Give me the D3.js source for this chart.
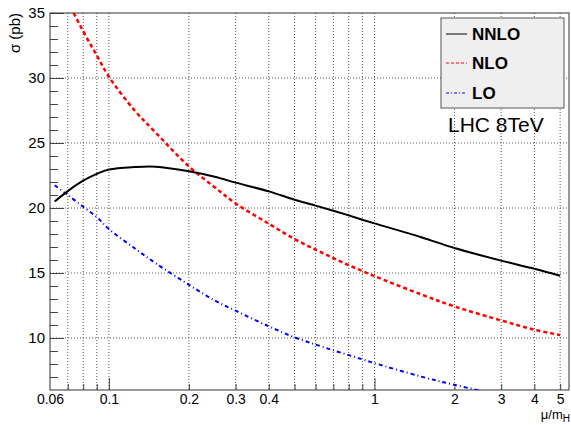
<!DOCTYPE html>
<html>
<head>
<meta charset="utf-8">
<script src="https://cdn.jsdelivr.net/npm/d3@7"></script>
<style>
  body { margin: 0; background: #fff; }
  .chart text { font-family: "Liberation Sans", Arial, Helvetica, sans-serif; fill: #000; }
  .grid line { stroke: #555; stroke-width: 1; stroke-dasharray: 1,2; }
  .axis path { display: none; }
  .axis line { stroke: #444; stroke-width: 1; }
</style>
</head>
<body>
<div class="chart"></div>
<script>
// scale mu/mH values where the curves are sampled
var muValues = [0.0625, 0.07, 0.08, 0.09, 0.1, 0.125, 0.15, 0.2, 0.25, 0.3, 0.4, 0.5,
  0.6, 0.7, 0.8, 0.9, 1, 1.5, 2, 3, 4, 5];

// cross sections (pb)
var nnloValues = [20.5, 21.3, 22.1, 22.62, 22.96, 23.15, 23.18, 22.82, 22.4, 21.95, 21.28, 20.64,
  20.18, 19.79, 19.43, 19.1, 18.82, 17.75, 16.92, 15.95, 15.33, 14.79];
var nloValues = [37.9, 35.9, 33.6, 31.75, 30.1, 27.5, 25.8, 23.2, 21.6, 20.35, 18.79, 17.61,
  16.8, 16.14, 15.6, 15.15, 14.76, 13.35, 12.43, 11.35, 10.64, 10.23];
var loValues = [21.75, 21.0, 20.1, 19.3, 18.38, 16.9, 15.75, 14.1, 12.89, 12.1, 10.9, 10.05,
  9.5, 9.05, 8.68, 8.36, 8.07, 7.03, 6.4, 5.6, 5.1, 4.75];

// axis ticks
var xLabelTicks = [0.06, 0.1, 0.2, 0.3, 0.4, 1, 2, 3, 4, 5];
var xMinorTicks = [0.07, 0.08, 0.09, 0.2, 0.3, 0.4, 0.5, 0.6, 0.7, 0.8, 0.9, 2, 3, 4, 5];
var xMajorTicks = [0.1, 1];
var xGridTicks = [0.07, 0.08, 0.09, 0.1, 0.2, 0.3, 0.4, 0.5, 0.6, 0.7, 0.8, 0.9, 1, 2, 3, 4, 5];
var yMajorTicks = [10, 15, 20, 25, 30, 35];
var yMinorTicks = d3.range(7, 35, 1);
var yGridTicks = [10, 15, 20, 25, 30];

var series = [
  {name: "NNLO", values: nnloValues, color: "#000000", width: 2, dash: null, legendDash: null},
  {name: "NLO", values: nloValues, color: "#ff0000", width: 2.5, dash: "4,3", legendDash: "3,2"},
  {name: "LO", values: loValues, color: "#0000ff", width: 2, dash: "4,3,1,3", legendDash: "3,2,1,2"}
];

var svgWidth = 571;
var svgHeight = 425;
var margin = {top: 13, right: 2, bottom: 35, left: 50};
var width = svgWidth - margin.left - margin.right;
var height = svgHeight - margin.top - margin.bottom;

var svg = d3.select(".chart")
  .append("svg")
  .attr("width", svgWidth)
  .attr("height", svgHeight);

var chart = svg.append("g")
  .attr("transform", "translate(" + margin.left + "," + margin.top + ")");

var xLogScale = d3.scaleLog().domain([0.06, 5.4]).range([0, width]);
var yLinearScale = d3.scaleLinear().domain([6, 35]).range([height, 0]);

// grid
var grid = chart.append("g").attr("class", "grid");
grid.selectAll(".vgrid")
  .data(xGridTicks)
  .enter().append("line")
  .attr("x1", function(d) { return xLogScale(d); })
  .attr("x2", function(d) { return xLogScale(d); })
  .attr("y1", 0)
  .attr("y2", height);
grid.selectAll(".hgrid")
  .data(yGridTicks)
  .enter().append("line")
  .attr("x1", 0)
  .attr("x2", width)
  .attr("y1", function(d) { return yLinearScale(d); })
  .attr("y2", function(d) { return yLinearScale(d); });

// axes (ticks point inward, ROOT style)
chart.append("g").attr("class", "axis")
  .call(d3.axisLeft(yLinearScale).tickValues(yMinorTicks).tickSizeInner(-8).tickSizeOuter(0).tickFormat(""));
chart.append("g").attr("class", "axis y-axis")
  .call(d3.axisLeft(yLinearScale).tickValues(yMajorTicks).tickSizeInner(-14).tickSizeOuter(0).tickPadding(5)
    .tickFormat(d3.format("d")))
  .selectAll("text")
  .style("font-size", "15px");

var xBottom = chart.append("g").attr("class", "axis")
  .attr("transform", "translate(0," + height + ")");
xBottom.append("g")
  .call(d3.axisBottom(xLogScale).tickValues(xMinorTicks).tickSizeInner(-6).tickSizeOuter(0).tickFormat(""));
xBottom.append("g")
  .call(d3.axisBottom(xLogScale).tickValues(xMajorTicks).tickSizeInner(-12).tickSizeOuter(0).tickFormat(""));
xBottom.append("g")
  .call(d3.axisBottom(xLogScale).tickValues(xLabelTicks).tickSize(0).tickPadding(4)
    .tickFormat(function(d) { return String(d); }))
  .selectAll("text")
  .style("font-size", "14px");

// frame
chart.append("rect")
  .attr("width", width)
  .attr("height", height)
  .attr("fill", "none")
  .attr("stroke", "#333")
  .attr("stroke-width", 1);

// curves
chart.append("clipPath").attr("id", "plot-clip")
  .append("rect").attr("width", width).attr("height", height);

var line = d3.line()
  .x(function(d) { return xLogScale(d[0]); })
  .y(function(d) { return yLinearScale(d[1]); })
  .curve(d3.curveCatmullRom.alpha(0.5));

chart.append("g").attr("clip-path", "url(#plot-clip)")
  .selectAll("path")
  .data(series.slice().reverse())
  .enter().append("path")
  .attr("d", function(s) { return line(d3.zip(muValues, s.values)); })
  .attr("fill", "none")
  .attr("stroke", function(s) { return s.color; })
  .attr("stroke-width", function(s) { return s.width; })
  .attr("stroke-dasharray", function(s) { return s.dash; });

// legend
var legend = svg.append("g").attr("transform", "translate(441,18)");
legend.append("rect")
  .attr("width", 123)
  .attr("height", 90)
  .attr("fill", "#efefef")
  .attr("stroke", "#555")
  .attr("stroke-width", 1);
var entries = legend.selectAll(".entry")
  .data(series)
  .enter().append("g")
  .attr("transform", function(s, i) { return "translate(0," + [16, 45, 75][i] + ")"; });
entries.append("line")
  .attr("x1", 5).attr("x2", 26)
  .attr("stroke", function(s) { return s.color; })
  .attr("stroke-width", 1)
  .attr("stroke-dasharray", function(s) { return s.legendDash; });
entries.append("text")
  .attr("x", 31)
  .attr("y", 6)
  .style("font-size", "17px")
  .style("font-weight", "bold")
  .text(function(s) { return s.name; });

svg.append("text")
  .attr("x", 448)
  .attr("y", 132)
  .style("font-size", "21px")
  .text("LHC 8TeV");

// axis titles
svg.append("text")
  .attr("transform", "translate(20,13) rotate(-90)")
  .attr("text-anchor", "end")
  .style("font-size", "15px")
  .text("σ (pb)");

var xTitle = svg.append("text")
  .attr("x", 570)
  .attr("y", 419)
  .attr("text-anchor", "end")
  .style("font-size", "13px");
xTitle.append("tspan").text("μ/m");
xTitle.append("tspan").attr("dy", 3).style("font-size", "10px").text("H");
</script>
</body>
</html>
